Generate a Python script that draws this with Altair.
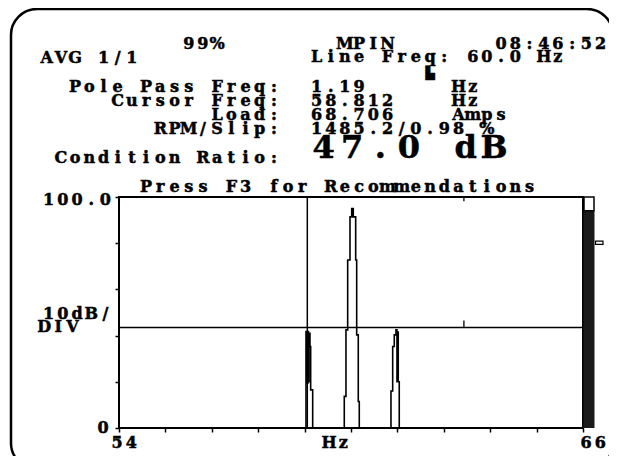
import altair as alt
import pandas as pd

# ---------------- data ----------------
# spectrum (Hz, amplitude on the 0-100 display scale, 10 dB/div), drawn as a step trace
spec_hz = [54.0, 58.836, 58.849, 58.862, 58.875, 58.888, 58.901, 58.913, 58.939, 58.957, 59.009,
           59.826, 59.870, 59.914, 59.974, 60.018, 60.059, 60.121, 60.147, 60.188, 60.214,
           61.034, 61.078, 61.119, 61.163, 61.189, 61.204, 61.222, 61.248, 66.0]
spec_amp = [0, 41.7, 19.5, 41.7, 19.5, 41.7, 20, 41, 35.3, 16.5, 0,
            13.7, 42.5, 72.7, 91.4, 95, 91.4, 72.7, 40.3, 11.5, 0,
            16, 35.3, 40.3, 42.5, 20, 41.5, 20, 0, 0]
x_domain = [54, 66]
y_domain = [0, 100]
x_ticks = [54 + 1.2 * i for i in range(11)]
y_ticks = [10 * i for i in range(11)]
cursor_hz = [58.87]
ref_level = [43.5]
marker_hz = [62.92]
meter_level = [94]
meter_top = [100]
meter_marker = [79.5, 80.9]

battery = "99%"
mode = "MPIN"
clock = "08:46:52"
avg = "AVG 1/1"
line_freq = "Line Freq: 60.0 Hz"
labels = ["Pole Pass Freq:", "Cursor Freq:", "Load:", "RPM/Slip:"]
values = ["1.19", "58.812", "68.706", "1485.2/0.98 %"]
units = ["Hz", "Hz", "Amps", ""]
cond_label = "Condition Ratio:"
cond_value = "47.0 dB"
prompt = "Press F3 for Recommendations"
y_top_label = "100.0"
y_mid_label = ["10dB/", "DIV"]
y_bot_label = "0"
x_labels = ["54", "Hz", "66"]

# ---------------- layout ----------------
OX, OY = 119, 197          # page position of plot origin
W, H = 464, 231
PITCH = 14.2
ROWP = 14.3
COL0 = 68
ROW0 = 91.5
FS = 16
FONT = "DejaVu Serif"

rows = []


def place(s, x0, y, pitch=PITCH, fs=FS):
    for i, ch in enumerate(s):
        if ch != " ":
            rows.append(dict(ch=ch, px=x0 - OX + (i + 0.5) * pitch, py=y - OY, fs=fs))


def col(c):
    return COL0 + c * PITCH


def row(r):
    return ROW0 + r * ROWP


place(battery, col(8), row(-3))
place(mode, col(19), row(-3))
place(clock, col(30), row(-3))
place(avg, col(-2), row(-2) + 0.5)
place(line_freq, col(17), row(-2) - 0.5)
place("\u2599", col(25), row(-1), fs=12)
for k, (lab, val, un) in enumerate(zip(labels, values, units)):
    y = row(k)
    place(lab, col(15 - len(lab)), y)
    place(val, col(17), y)
    place(un, col(27), y)
place(cond_label, col(15 - len(cond_label)), row(5))
place(cond_value, col(17), row(5) - 5, pitch=2 * PITCH, fs=32)
place(prompt, col(5), row(7))
place(y_top_label, 41.5, 204.5)
place(y_mid_label[0], 41.5, 318.5)
place(y_mid_label[1], 37, 331.5)
place(y_bot_label, 96, 433)
place(x_labels[0], 110, 448)
place(x_labels[1], 322, 448)
place(x_labels[2], 579, 448)

text_df = pd.DataFrame(rows)

spec_df = pd.DataFrame({"hz": spec_hz, "amp": spec_amp})

xs = alt.Scale(domain=x_domain, nice=False, zero=False)
ys = alt.Scale(domain=y_domain, nice=False, zero=False)

x_axis = alt.Axis(values=x_ticks, labels=False, domain=False, grid=False, tickSize=4,
                  tickWidth=1.5, tickColor="black", title=None)
y_axis = alt.Axis(values=y_ticks, labels=False, domain=False, grid=False, tickSize=4,
                  tickWidth=1.5, tickColor="black", title=None)

border = alt.Chart(pd.DataFrame({"a": [0]})).mark_rect(
    fill="transparent", stroke="black", strokeWidth=2.5, cornerRadius=26
).encode(x=alt.value(-108), x2=alt.value(494), y=alt.value(-188), y2=alt.value(272))

spectrum = alt.Chart(spec_df).mark_line(
    interpolate="step-after", color="black", strokeWidth=1.6
).encode(
    x=alt.X("hz:Q", scale=xs, axis=x_axis),
    y=alt.Y("amp:Q", scale=ys, axis=y_axis),
)

cursor = alt.Chart(pd.DataFrame({"hz": cursor_hz})).mark_rule(
    color="black", strokeWidth=1.5).encode(x="hz:Q")

hline = alt.Chart(pd.DataFrame({"amp": ref_level})).mark_rule(
    color="black", strokeWidth=1.6).encode(y="amp:Q")

mk_df = pd.DataFrame({"hz": marker_hz * 2, "y1": [100, ref_level[0]],
                      "y2": [98.2, ref_level[0] + 3]})
marks = alt.Chart(mk_df).mark_rule(color="black", strokeWidth=1.3).encode(
    x="hz:Q", y="y1:Q", y2="y2:Q")

meter = alt.Chart(pd.DataFrame({"lo": [0], "hi": meter_level})).mark_rect(
    color="#1a1a1a").encode(x=alt.value(464.5), x2=alt.value(475.5), y="lo:Q", y2="hi:Q")

meter_box = alt.Chart(pd.DataFrame({"lo": meter_level, "hi": meter_top})).mark_rect(
    fill="white", stroke="black", strokeWidth=1.5).encode(
    x=alt.value(465), x2=alt.value(475), y="lo:Q", y2="hi:Q")

meter_mark = alt.Chart(pd.DataFrame({"lo": [meter_marker[0]], "hi": [meter_marker[1]]})).mark_rect(
    fill="white", stroke="black", strokeWidth=1.2).encode(
    x=alt.value(476.5), x2=alt.value(484), y="lo:Q", y2="hi:Q")

inner = alt.layer(border, meter, meter_box, meter_mark, spectrum, hline, cursor, marks)

text = alt.Chart(text_df).mark_text(
    font=FONT, fontWeight="bold", align="center", baseline="alphabetic",
    color="black", stroke="black", strokeWidth=0.5
).encode(
    x=alt.X("px:Q", scale=None, axis=None),
    y=alt.Y("py:Q", scale=None, axis=None),
    text="ch:N",
    size=alt.Size("fs:Q", scale=None, legend=None),
)

chart = alt.layer(inner, text).resolve_scale(x="independent", y="independent").properties(
    width=W, height=H, autosize="none",
    padding={"left": 111, "top": 189, "right": 26, "bottom": 28},
    background="white",
).configure_view(stroke="black", strokeWidth=2)

chart.save("out.html", embed_options={"renderer": "svg", "actions": False})
